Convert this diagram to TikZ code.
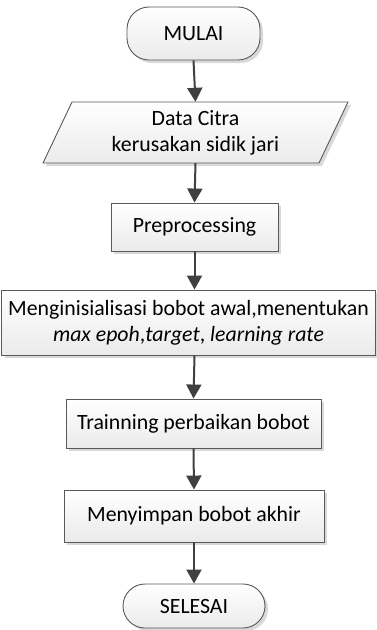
\documentclass[tikz,border=0pt]{standalone}
\usepackage{fontspec}
\setmainfont{Carlito}
\usetikzlibrary{shadows,arrows.meta,calc}
\tikzset{
  box/.style={draw=black!65, line width=0.9pt, top color=white, bottom color=black!8,
    drop shadow={shadow xshift=3pt, shadow yshift=-3pt, fill=black!25, opacity=0.6},
    align=center, font=\fontsize{21.8}{26}\selectfont, inner sep=0pt},
  term/.style={box, rounded corners=22pt},
  plain/.style={align=center, font=\fontsize{21.8}{26}\selectfont, inner sep=0pt},
  flow/.style={draw=black!75, line width=2pt, -{Triangle[length=14pt,width=15pt]}}
}
\begin{document}
\begin{tikzpicture}[x=1pt,y=-1pt]
\useasboundingbox (0,0) rectangle (377,630);
\node[term, minimum width=133pt, minimum height=53pt] (start) at (193.5,33.5) {MULAI};
% parallelogram
\path[box] (72,102) -- (348,102) -- (319,163) -- (43,163) -- cycle;
\node[plain, minimum width=200pt, minimum height=61pt] (data) at (195.5,132.5) {Data Citra\\kerusakan sidik jari};
\node[box, minimum width=167pt, minimum height=48pt] (pre) at (194.5,227) {Preprocessing};
\node[box, minimum width=374pt, minimum height=65pt] (init) at (188.5,322.5) {Menginisialisasi bobot awal,menentukan\\\textit{max epoh},\textit{target}, \textit{learning rate}};
\node[box, minimum width=255pt, minimum height=49pt] (train) at (193.5,423.5) {Trainning perbaikan bobot};
\node[box, minimum width=260pt, minimum height=52pt] (save) at (194,516) {Menyimpan bobot akhir};
\node[term, minimum width=142pt, minimum height=44pt] (end) at (194,606) {SELESAI};
\draw[flow] (start.south) -- (data.north);
\draw[flow] (data.south) -- (pre.north);
\draw[flow] (pre.south) -- (pre.south |- init.north);
\draw[flow] (pre.south |- init.south) -- (train.north);
\draw[flow] (train.south) -- (save.north);
\draw[flow] (save.south) -- (end.north);
\end{tikzpicture}
\end{document}
